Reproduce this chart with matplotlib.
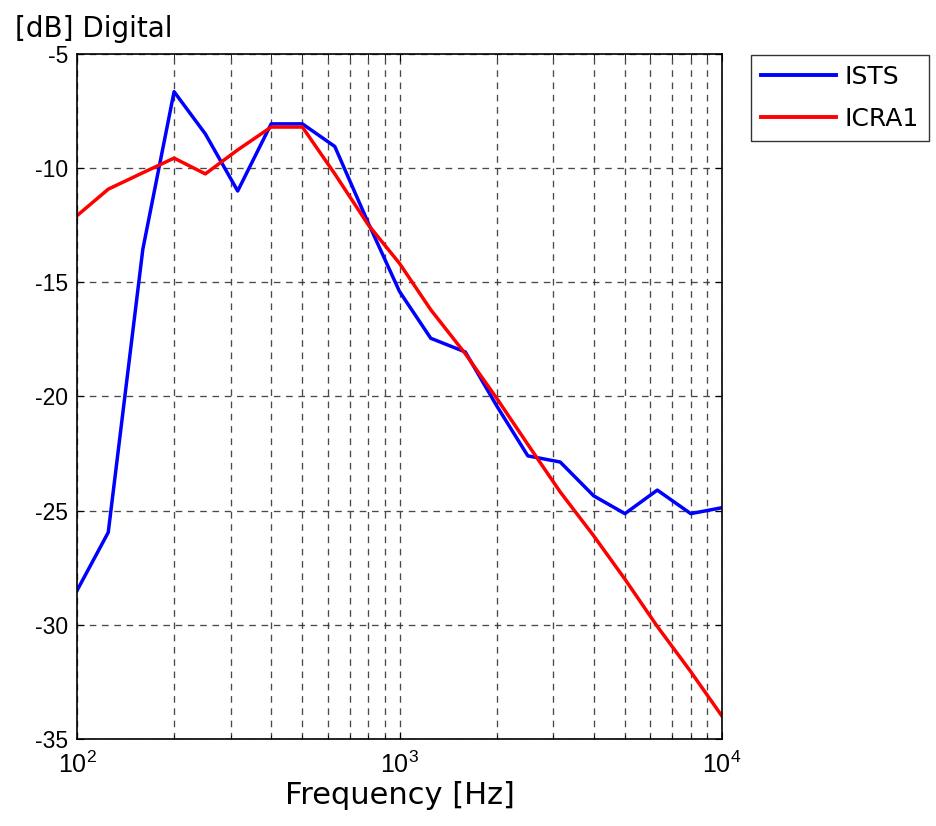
import matplotlib
matplotlib.use("Agg")
import matplotlib.pyplot as plt
from matplotlib.ticker import LogLocator, NullFormatter, FixedLocator

plt.rcParams["axes.unicode_minus"] = False

freqs = [100, 125, 160, 200, 250, 315, 400, 500, 630, 800, 1000, 1250, 1600,
         2000, 2500, 3150, 4000, 5000, 6300, 8000, 10000]
ists = [-28.5, -25.95, -13.55, -6.65, -8.5, -11.0, -8.06, -8.06, -9.05, -12.4,
        -15.4, -17.45, -18.05, -20.4, -22.6, -22.87, -24.35, -25.13, -24.1, -25.13, -24.87]
icra1 = [-12.08, -10.92, -10.2, -9.56, -10.25, -9.2, -8.2, -8.2, -10.25, -12.48,
         -14.17, -16.2, -18.13, -20.07, -22.1, -24.18, -26.1, -28.0, -30.07, -32.05, -34.0]
series_names = ["ISTS", "ICRA1"]
yticks = [-5, -10, -15, -20, -25, -30, -35]

fig = plt.figure(figsize=(9.36, 8.26), dpi=100)
W, H = 936, 826
ax = fig.add_axes([77 / W, 1 - 739 / H, (722 - 77) / W, (739 - 54) / H])

ax.plot(freqs, ists, color="#0000ff", lw=2.5, label=series_names[0])
ax.plot(freqs, icra1, color="#ff0000", lw=2.5, label=series_names[1])

ax.set_xscale("log")
ax.set_xlim(100, 10000)
ax.set_ylim(-35, -5)
ax.yaxis.set_major_locator(FixedLocator(yticks))
ax.xaxis.set_major_locator(LogLocator(base=10))
ax.xaxis.set_minor_locator(LogLocator(base=10, subs=range(2, 10)))
ax.xaxis.set_minor_formatter(NullFormatter())

grid_kw = dict(color="#2a2a2a", linestyle=(0, (5, 4.3)), linewidth=0.95, alpha=0.85)
ax.grid(True, which="major", axis="both", **grid_kw)
ax.grid(True, which="minor", axis="x", **grid_kw)

ax.tick_params(axis="both", which="both", direction="in", top=True, right=True,
               labelfontfamily="Liberation Sans")
ax.tick_params(axis="y", labelsize=16.5, pad=6.5)
ax.tick_params(axis="x", labelsize=18, pad=9)
ax.tick_params(which="major", length=5)
ax.tick_params(which="minor", length=3)
for s in ax.spines.values():
    s.set_linewidth(1.2)

ax.set_xlabel("Frequency [Hz]", fontsize=22, labelpad=2, family="DejaVu Sans")
fig.text(15 / W, 1 - 37 / H, "[dB] Digital", fontsize=20, ha="left", va="baseline",
         family="DejaVu Sans")

leg = ax.legend(loc="upper left", bbox_to_anchor=(751 / W, 1 - 55 / H),
                bbox_transform=fig.transFigure, prop={"family": "DejaVu Sans", "size": 18},
                frameon=True, fancybox=False, edgecolor="black", handlelength=3.0,
                borderpad=0.4, labelspacing=0.7, handletextpad=0.35,
                borderaxespad=0.0)
leg.get_frame().set_linewidth(1.0)
for ln in leg.get_lines():
    ln.set_linewidth(2.8)

fig.savefig("out.png", dpi=100)
